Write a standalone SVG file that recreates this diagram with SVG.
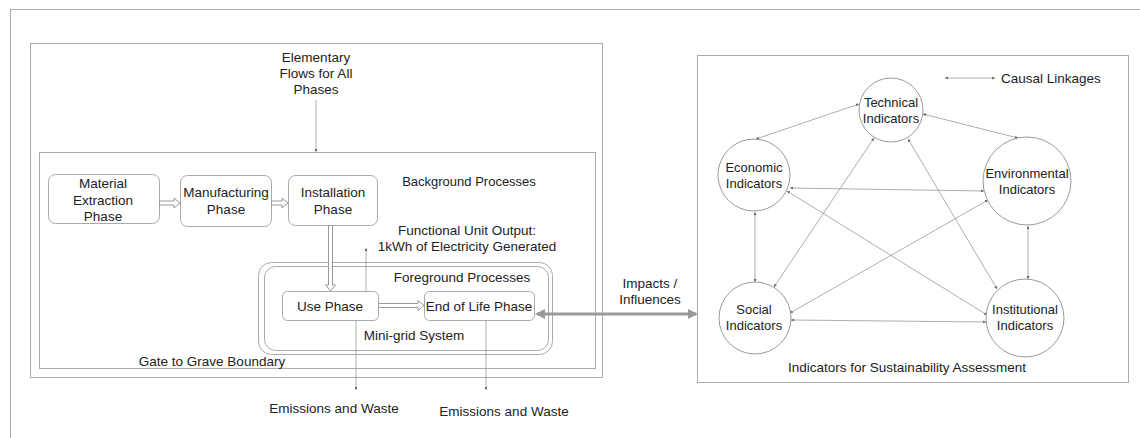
<svg xmlns="http://www.w3.org/2000/svg" width="1140" height="438" viewBox="0 0 1140 438">
<defs>
<style>
text{font-family:"Liberation Sans",Arial,sans-serif;font-size:13.5px;fill:#222;text-anchor:middle}
.sm{font-size:13px}
.frame{fill:none;stroke:#aaa;stroke-width:1}
.box{fill:#fff;stroke:#aaa;stroke-width:1}
.circ{fill:#fff;stroke:#999;stroke-width:1}
.thin{fill:none;stroke:#999;stroke-width:0.8;marker-end:url(#tip)}
.link{fill:none;stroke:#999;stroke-width:0.8;marker-start:url(#tip);marker-end:url(#tip)}
.hollow{fill:#fff;stroke:#999;stroke-width:1}
.big{fill:none;stroke:#999;stroke-width:3;marker-start:url(#bigtip);marker-end:url(#bigtip)}
</style>
<marker id="tip" viewBox="0 0 6 6" refX="6" refY="3" markerWidth="3" markerHeight="3" markerUnits="userSpaceOnUse" orient="auto-start-reverse">
<path d="M0,0 L6,3 L0,6 Z" fill="#666"/>
</marker>
<marker id="bigtip" viewBox="0 0 10 10" refX="8" refY="5" markerWidth="10" markerHeight="10" markerUnits="userSpaceOnUse" orient="auto-start-reverse">
<path d="M0,0 L10,5 L0,10 Z" fill="#999"/>
</marker>
</defs>

<rect class="frame" x="10.5" y="9.5" width="1140" height="440"/>

<g id="lca-boundary">
<rect class="frame" x="30.5" y="43.5" width="572" height="334"/>
<rect class="frame" x="39.5" y="152.5" width="556" height="216"/>
<text x="212" y="366">Gate to Grave Boundary</text>
<text class="sm" x="469" y="186">Background Processes</text>
</g>

<g id="elementary-flows">
<text x="316" y="62">Elementary</text>
<text x="316" y="78">Flows for All</text>
<text x="316" y="94">Phases</text>
</g>

<g id="functional-unit">
<text x="467" y="235">Functional Unit Output:</text>
<text x="467" y="251">1kWh of Electricity Generated</text>
</g>

<g id="mini-grid">
<rect class="box" x="258.5" y="262.5" width="294" height="92" rx="13"/>
<rect class="box" x="264.5" y="266.5" width="284" height="84" rx="11"/>
<text x="462" y="282">Foreground Processes</text>
<text x="414" y="340">Mini-grid System</text>
</g>

<g id="material-extraction">
<rect class="box" x="48.5" y="174.5" width="111" height="49" rx="7"/>
<text x="103" y="188">Material</text>
<text x="103" y="205">Extraction</text>
<text x="103" y="221">Phase</text>
</g>
<g id="manufacturing">
<rect class="box" x="180.5" y="175.5" width="91" height="51" rx="7"/>
<text x="226" y="197">Manufacturing</text>
<text x="226" y="214">Phase</text>
</g>
<g id="installation">
<rect class="box" x="288.5" y="175.5" width="89" height="50" rx="7"/>
<text x="333" y="197">Installation</text>
<text x="333" y="214">Phase</text>
</g>
<g id="use-phase">
<rect class="box" x="282.5" y="291.5" width="96" height="29" rx="5"/>
<text x="330" y="311">Use Phase</text>
</g>
<g id="end-of-life">
<rect class="box" x="424.5" y="291.5" width="110" height="29" rx="5"/>
<text x="479" y="311">End of Life Phase</text>
</g>

<g id="emissions">
<text x="334" y="413">Emissions and Waste</text>
<text x="504" y="416">Emissions and Waste</text>
</g>

<g id="impacts-label">
<text x="650" y="288">Impacts /</text>
<text x="650" y="304">Influences</text>
</g>

<g id="indicators-boundary">
<rect class="frame" x="697.5" y="55.5" width="431" height="327"/>
<text x="907" y="372">Indicators for Sustainability Assessment</text>
</g>

<g id="legend">
<line class="link" x1="945" y1="78" x2="995" y2="78"/>
<text x="1001" y="83" style="text-anchor:start">Causal Linkages</text>
</g>

<g id="connectors">
<line class="thin" x1="316" y1="100" x2="316" y2="152"/>
<line class="thin" x1="366" y1="291" x2="366" y2="248"/>
<line class="thin" x1="356" y1="320" x2="356" y2="390"/>
<line class="thin" x1="486" y1="320" x2="486" y2="390"/>
<path class="hollow" d="M159.5,201 H174 V198 L180,203 L174,208 V205 H159.5 Z"/>
<path class="hollow" d="M271.5,201 H282 V198 L288,203 L282,208 V205 H271.5 Z"/>
<path class="hollow" d="M328.5,225.5 V285 H325.5 L330.5,291 L335.5,285 H332.5 V225.5 Z"/>
<path class="hollow" d="M378.5,303.5 H418 V300.5 L424,305.5 L418,310.5 V307.5 H378.5 Z"/>
<line class="big" x1="537" y1="314" x2="696" y2="314"/>
<line class="link" x1="859" y1="104" x2="756" y2="139"/>
<line class="link" x1="923" y1="114" x2="1018" y2="138"/>
<line class="link" x1="790" y1="188" x2="984" y2="191"/>
<line class="link" x1="755" y1="212" x2="755" y2="282"/>
<line class="link" x1="1028" y1="226" x2="1028" y2="279"/>
<line class="link" x1="791" y1="320" x2="986" y2="322"/>
<line class="link" x1="787" y1="191" x2="987" y2="315"/>
<line class="link" x1="774" y1="287" x2="874" y2="138"/>
<line class="link" x1="790" y1="313" x2="988" y2="200"/>
<line class="link" x1="908" y1="139" x2="997" y2="289"/>
</g>

<g id="technical">
<circle class="circ" cx="891" cy="110" r="32"/>
<text class="sm" x="891" y="107">Technical</text>
<text class="sm" x="891" y="123">Indicators</text>
</g>
<g id="economic">
<circle class="circ" cx="754" cy="175" r="36"/>
<text class="sm" x="754" y="172">Economic</text>
<text class="sm" x="754" y="188">Indicators</text>
</g>
<g id="environmental">
<circle class="circ" cx="1027" cy="181" r="44"/>
<text class="sm" x="1027" y="178">Environmental</text>
<text class="sm" x="1027" y="194">Indicators</text>
</g>
<g id="social">
<circle class="circ" cx="755" cy="318" r="36"/>
<text class="sm" x="754" y="314">Social</text>
<text class="sm" x="754" y="330">Indicators</text>
</g>
<g id="institutional">
<circle class="circ" cx="1025" cy="318" r="39"/>
<text class="sm" x="1025" y="314">Institutional</text>
<text class="sm" x="1025" y="330">Indicators</text>
</g>
</svg>
